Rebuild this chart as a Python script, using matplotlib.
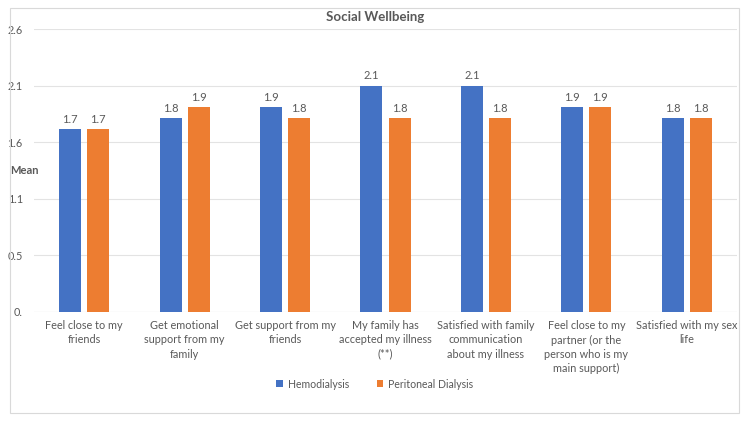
import matplotlib.pyplot as plt
import numpy as np
from matplotlib.patches import Rectangle

categories = [
    "Feel close to my\nfriends",
    "Get emotional\nsupport from my\nfamily",
    "Get support from my\nfriends",
    "My family has\naccepted my illness\n(**)",
    "Satisfied with family\ncommunication\nabout my illness",
    "Feel close to my\npartner (or the\nperson who is my\nmain support)",
    "Satisfied with my sex\nlife",
]
hemodialysis = [1.68, 1.78, 1.88, 2.08, 2.08, 1.88, 1.78]
peritoneal = [1.68, 1.88, 1.78, 1.78, 1.78, 1.88, 1.78]
ytick_vals = [0, 0.52, 1.04, 1.56, 2.08, 2.6]
ytick_labels = ["0.", "0.5", "1.1", "1.6", "2.1", "2.6"]

grey = "#595959"
blue = "#4472C4"
orange = "#ED7D31"
plt.rcParams['font.family'] = ['Lato', 'DejaVu Sans']

fig = plt.figure(figsize=(7.5, 4.22), dpi=100)
ax = fig.add_axes([34 / 750, 1 - 312 / 422, 703 / 750, 283 / 422])

x = np.arange(len(categories))
w = 0.22
b1 = ax.bar(x - 0.14, hemodialysis, w, color=blue, label="Hemodialysis", zorder=3)
b2 = ax.bar(x + 0.14, peritoneal, w, color=orange, label="Peritoneal Dialysis", zorder=3)
ax.bar_label(b1, fmt="%.1f", padding=3, fontsize=8, color=grey)
ax.bar_label(b2, fmt="%.1f", padding=3, fontsize=8, color=grey)

ax.set_xlim(-0.5, len(categories) - 0.5)
ax.set_ylim(0, 2.6)
ax.set_yticks(ytick_vals)
ax.set_yticklabels(ytick_labels)
ax.set_xticks(x)
ax.set_xticklabels(categories, linespacing=1.35)
ax.tick_params(axis='both', length=0, labelsize=7.8, labelcolor=grey)
ax.tick_params(axis='y', pad=8)
ax.tick_params(axis='x', pad=6)
ax.grid(axis='y', color="#E3E3E3", linewidth=0.8, zorder=0)
for s in ax.spines.values():
    s.set_visible(False)
ax.axhline(0, color="#D9D9D9", linewidth=0.8, zorder=2)

fig.text(10 / 750, 1 - 171 / 422, "Mean", fontsize=8, fontweight='bold', color=grey, va='center')
fig.text(0.5, 1 - 17 / 422, "Social Wellbeing", fontsize=9.5, fontweight='bold', color=grey,
         ha='center', va='center')

fig.legend(handles=[b1, b2], loc='center', bbox_to_anchor=(0.5, 1 - 384 / 422), ncol=2,
           frameon=False, fontsize=7.6, handlelength=0.6, handleheight=0.6,
           handletextpad=0.5, columnspacing=2.6, labelcolor=grey)

fig.patches.append(Rectangle((10 / 750, 1 - 413 / 422), 729 / 750, 405 / 422,
                             transform=fig.transFigure, fill=False,
                             edgecolor="#D9D9D9", linewidth=0.8))

fig.savefig("out.png", dpi=100)
